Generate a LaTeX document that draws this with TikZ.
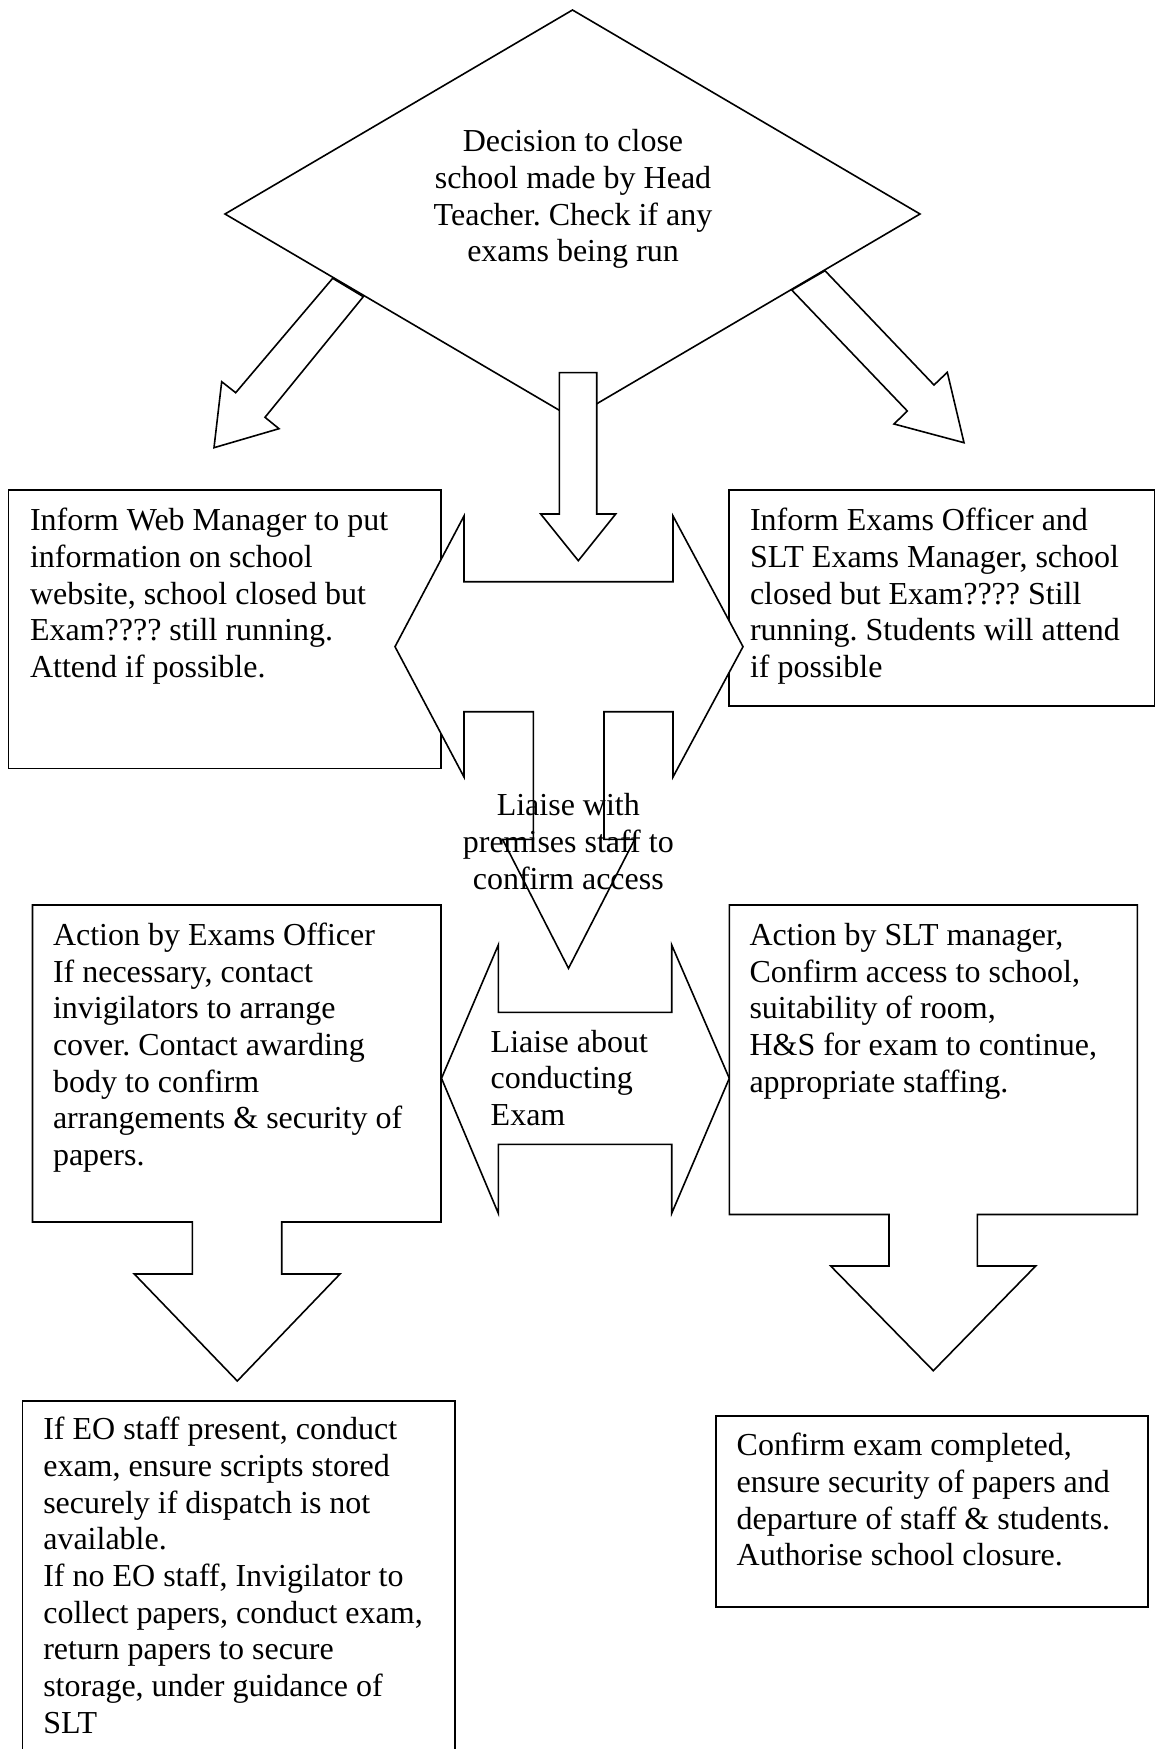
\documentclass[tikz,border=0pt]{standalone}
\usepackage{fontspec}
\setmainfont{Liberation Serif}
\frenchspacing
\tikzset{
  shp/.style={draw=black, fill=white, line width=0.8pt, line join=miter},
  boxline/.style={draw=black, line width=0.8pt},
  txt/.style={font=\fontsize{16pt}{18.33pt}\selectfont\frenchspacing, inner sep=0pt, outer sep=0pt, align=left, anchor=north west},
  ctxt/.style={txt, align=center, anchor=north},
}
\begin{document}
\begin{tikzpicture}[x=0.5pt, y=-0.5pt]
\path[use as bounding box, clip] (0,0) rectangle (1156,1749);
\fill[white] (0,0) rectangle (1156,1749);

% top boxes (under the cross arrow)
\path[boxline] (8.3,490) rectangle (441,768.3);
\path[boxline] (728.7,490) rectangle (1154.5,706);

% diamond
\path[shp] (572.5,10) -- (920,214) -- (572.5,418) -- (225,214) -- cycle;

% diagonal arrows
\path[shp] (332.7,278.3) -- (235.7,392.7) -- (221.7,381.7) -- (214,447.7) -- (279,428.7) -- (265,417.3) -- (363.3,296.7) -- cycle;
\path[shp] (791.7,290) -- (907.3,411) -- (894,424) -- (964,442.7) -- (947.3,372.3) -- (934,385) -- (825,270.7) -- cycle;

% middle down arrow
\path[shp] (559.3,372.7) -- (596.7,372.7) -- (596.7,514) -- (615.7,514) -- (578.3,560.7) -- (540.7,514) -- (559.3,514) -- cycle;

% upper left-right-down arrow
\path[shp] (395,646.7) -- (464,516) -- (464,581.7) -- (673,581.7) -- (673,516) -- (743,646.7) -- (673,777) -- (673,711.7) -- (604,711.7) -- (604,839.3) -- (634.7,839.3) -- (568.5,968.3) -- (502.5,839.3) -- (533.3,839.3) -- (533.3,711.7) -- (464,711.7) -- (464,777) -- cycle;

% lower left-right arrow
\path[shp] (441.5,1078.3) -- (498.3,945) -- (498.3,1012.3) -- (671.7,1012.3) -- (671.7,945) -- (729.3,1078.3) -- (671.7,1213.3) -- (671.7,1144.3) -- (498.3,1144.3) -- (498.3,1213.3) -- cycle;

% middle boxes with down arrows
\path[shp] (32.5,905) -- (441,905) -- (441,1222) -- (281.7,1222) -- (281.7,1274) -- (340,1274) -- (237.3,1381) -- (134.3,1274) -- (192.3,1274) -- (192.3,1222) -- (32.5,1222) -- cycle;
\path[shp] (729.3,905) -- (1137.3,905) -- (1137.3,1214.5) -- (977.3,1214.5) -- (977.3,1266) -- (1035.7,1266) -- (933.3,1370.7) -- (830.7,1266) -- (889,1266) -- (889,1214.5) -- (729.3,1214.5) -- cycle;

% bottom boxes
\path[boxline] (22.3,1760) -- (22.3,1400.7) -- (454.8,1400.7) -- (454.8,1760);
\path[boxline] (715.7,1415.7) rectangle (1147.7,1606.7);

% texts
\node[ctxt] (decide) at (573,126.3) {\strut Decision to close\\school made by Head\\Teacher. Check if any\\exams being run};
\node[txt] (web) at (30,505.3) {\strut Inform Web Manager to put\\information on school\\website, school closed but\\Exam???? still running.\\Attend if possible.};
\node[txt] (eoinf) at (750,505.3) {\strut Inform Exams Officer and\\SLT Exams Manager, school\\closed but Exam???? Still\\running. Students will attend\\if possible};
\node[ctxt] (prem) at (568.3,790.3) {\strut Liaise with\\premises staff to\\confirm access};
\node[txt] (eoact) at (53,919.8) {\strut Action by Exams Officer\\If necessary, contact\\invigilators to arrange\\cover. Contact awarding\\body to confirm\\arrangements \& security of\\papers.};
\node[txt] (sltact) at (749.5,919.8) {\strut Action by SLT manager,\\Confirm access to school,\\suitability of room,\\H\&S for exam to continue,\\appropriate staffing.};
\node[txt] (conduct) at (490.7,1026.6) {\strut Liaise about\\conducting\\Exam};
\node[txt] (eoexam) at (43.3,1414.3) {\strut If EO staff present, conduct\\exam, ensure scripts stored\\securely if dispatch is not\\available.\\If no EO staff, Invigilator to\\collect papers, conduct exam,\\return papers to secure\\storage, under guidance of\\SLT};
\node[txt] (closure) at (736.7,1430.3) {\strut Confirm exam completed,\\ensure security of papers and\\departure of staff \& students.\\Authorise school closure.};
\end{tikzpicture}
\end{document}
